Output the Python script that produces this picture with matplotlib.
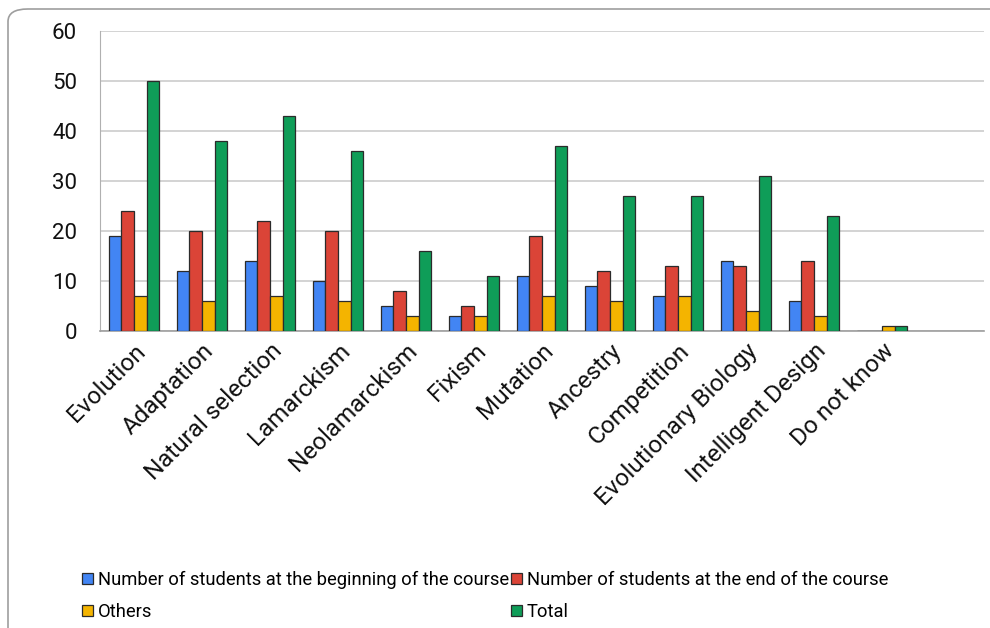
import numpy as np
import matplotlib.pyplot as plt
from matplotlib.patches import FancyBboxPatch, Patch

plt.rcParams['font.family'] = ['Roboto', 'DejaVu Sans']

categories = ['Evolution', 'Adaptation', 'Natural selection', 'Lamarckism',
              'Neolamarckism', 'Fixism', 'Mutation', 'Ancestry', 'Competition',
              'Evolutionary Biology', 'Intelligent Design', 'Do not know']
beginning = [19, 12, 14, 10, 5, 3, 11, 9, 7, 14, 6, 0]
end = [24, 20, 22, 20, 8, 5, 19, 12, 13, 13, 14, 0]
others = [7, 6, 7, 6, 3, 3, 7, 6, 7, 4, 3, 1]
total = [50, 38, 43, 36, 16, 11, 37, 27, 27, 31, 23, 1]

series = [
    ('Number of students at the beginning of the course', beginning, '#4285F4'),
    ('Number of students at the end of the course', end, '#DB4437'),
    ('Others', others, '#F4B400'),
    ('Total', total, '#0F9D58'),
]

fig = plt.figure(figsize=(9.9, 6.28), dpi=100)

# rounded card border
frame = FancyBboxPatch((8 / 990, -0.1), 1.2, 1.1 - 9 / 628,
                       boxstyle='round,pad=0,rounding_size=0.02',
                       transform=fig.transFigure, facecolor='none',
                       edgecolor='#9e9e9e', linewidth=1.2, clip_on=False)
fig.patches.append(frame)

ax = fig.add_axes([100 / 990, 1 - 331 / 628, 884 / 990, 300 / 628])

x = np.arange(len(categories))
w = 0.184
for i, (name, vals, col) in enumerate(series):
    ax.bar(x + (i - 1.5) * w, vals, w, color=col, edgecolor='#2b2b2b',
           linewidth=0.9, label=name, zorder=3)

ax.set_xlim(-0.5, len(categories) + 0.5)
ax.set_ylim(0, 60)
ax.set_yticks(range(0, 61, 10))
ax.yaxis.grid(True, color='#cccccc', linewidth=1.2, zorder=0)
for s in ['top', 'right']:
    ax.spines[s].set_visible(False)
ax.spines['left'].set_color('#b0b0b0')
ax.spines['bottom'].set_color('#9e9e9e')
ax.spines['bottom'].set_linewidth(1.2)
ax.tick_params(axis='y', length=0, pad=16.5, labelsize=16, labelcolor='#111111')
ax.tick_params(axis='x', length=0, pad=6)
ax.set_xticks(x)
ax.set_xticklabels(categories, rotation=45, ha='right', rotation_mode='anchor',
                   fontsize=17.5, color='#111111')

# legend fills column-first, so order handles to get rows: begin/end, others/total
order = [0, 2, 1, 3]
handles = [Patch(facecolor=series[k][2], edgecolor='#2b2b2b', linewidth=0.9,
                 label=series[k][0]) for k in order]
fig.legend(handles=handles, ncol=2, loc='upper left',
           bbox_to_anchor=(82 / 990, 1 - 571 / 628), frameon=False,
           borderpad=0, borderaxespad=0,
           fontsize=13.2, handlelength=0.6, handleheight=0.6,
           handletextpad=0.25, columnspacing=0.15, labelspacing=0.75)

fig.savefig('out.png', dpi=100)
